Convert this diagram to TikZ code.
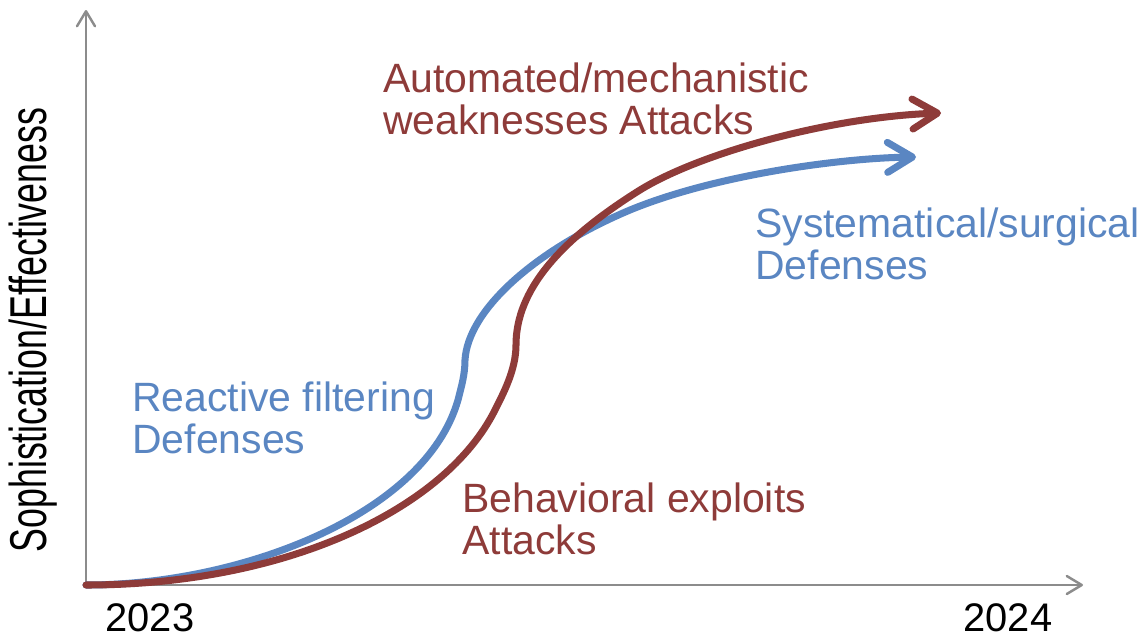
\documentclass[tikz,border=0pt]{standalone}
\usepackage{fontspec}
\setmainfont{Liberation Sans}
\usepackage{tikz}
\usetikzlibrary{arrows.meta, positioning}
\definecolor{atkred}{HTML}{8E3B39}
\definecolor{defblue}{HTML}{5A86C2}
\definecolor{axisgray}{HTML}{8C8C8C}

\begin{document}
\begin{tikzpicture}[x=0.02cm, y=-0.02cm,
    axis/.style={line width=1.4pt, color=axisgray, -{Straight Barb[length=3mm, width=3.6mm, round]}},
    attack/.style={line width=4pt, color=atkred, line cap=round, -{Straight Barb[length=5mm, width=6mm, round]}},
    defense/.style={line width=4pt, color=defblue, line cap=round, -{Straight Barb[length=5mm, width=6mm, round]}},
    curvelabel/.style={anchor=west, align=left, inner sep=0pt, font=\fontsize{23.3}{23.5}\selectfont},
    yearlabel/.style={inner sep=0pt, font=\fontsize{22.7}{24}\selectfont}
]
\useasboundingbox (0,0) rectangle (1147,640);

% Axes
\coordinate (origin) at (86,585);
\coordinate (ytop) at (86,10);
\coordinate (xend) at (1083,585);
\draw[axis] (origin) -- (ytop);
\draw[axis] (origin) -- (xend);

% Axis labels
\node[rotate=90, inner sep=0pt, font=\fontsize{29.5}{30}\selectfont] (ylab) at (33,330) {\scalebox{0.69}[1]{Sophistication/Effectiveness}};
\node[yearlabel] (y2023) at (150,618) {2023};
\node[yearlabel] (y2024) at (1008,618) {2024};

% Defense curve
\draw[defense] (origin) .. controls (240,585) and (425,515) .. (458,400)
  .. controls (461,388) and (465,375) .. (465,360)
  .. controls (468,310) and (535,250) .. (630,210)
  .. controls (715,175) and (840,158) .. (916,157);

% Attack curve
\draw[attack] (origin) .. controls (285,585) and (445,510) .. (495,410)
  .. controls (503,394) and (516,370) .. (516,345)
  .. controls (516,290) and (560,240) .. (640,190)
  .. controls (700,153) and (830,117) .. (941,113);

% Labels
\node[curvelabel, color=atkred] (autolab) at (383,99) {Automated/mechanistic\\weaknesses Attacks};
\node[curvelabel, color=defblue] (syslab) at (755,244) {Systematical/surgical\\Defenses};
\node[curvelabel, color=defblue] (reactlab) at (132,418) {Reactive filtering\\Defenses};
\node[curvelabel, color=atkred] (behavlab) at (462,519) {Behavioral exploits\\Attacks};

\end{tikzpicture}
\end{document}
